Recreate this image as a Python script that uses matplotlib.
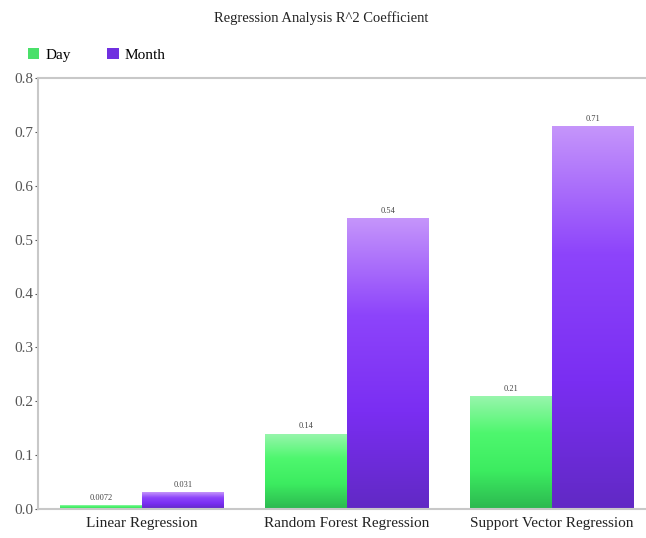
import numpy as np
import matplotlib
matplotlib.use("Agg")
import matplotlib.pyplot as plt
from matplotlib.colors import LinearSegmentedColormap
from matplotlib.patches import Patch

plt.rcParams['font.family'] = ['Liberation Serif', 'DejaVu Serif']

models = ['Linear Regression', 'Random Forest Regression', 'Support Vector Regression']
day_vals = [0.0072, 0.14, 0.21]
month_vals = [0.031, 0.54, 0.71]
day_labels = ['0.0072', '0.14', '0.21']
month_labels = ['0.031', '0.54', '0.71']

day_cmap = LinearSegmentedColormap.from_list('day', ['#2cb850', '#3cec60', '#4ef76e', '#9af5ae'])
month_cmap = LinearSegmentedColormap.from_list('month', ['#6129c4', '#7a2ef2', '#8d44fb', '#c595fa'])

fig = plt.figure(figsize=(6.46, 5.38), dpi=100)
ax = fig.add_axes([38 / 646, 1 - 509 / 538, 608 / 646, 431 / 538])

x = np.arange(len(models))
w = 0.4
grad = np.linspace(0, 1, 256).reshape(-1, 1)


def gradient_bars(xs, vals, cmap, labels):
    bars = ax.bar(xs, vals, w, color='none', edgecolor='none')
    for b, lab in zip(bars, labels):
        x0, y0 = b.get_x(), b.get_y()
        h = b.get_height()
        im = ax.imshow(grad, cmap=cmap, origin='lower', aspect='auto',
                       extent=(x0, x0 + b.get_width(), y0, y0 + h), zorder=2)
        im.set_clip_path(b)
        ax.text(x0 + b.get_width() / 2, y0 + h + 0.006, lab, ha='center', va='bottom',
                fontsize=6, color='#444444')
    return bars


gradient_bars(x - w / 2, day_vals, day_cmap, day_labels)
gradient_bars(x + w / 2, month_vals, month_cmap, month_labels)

ax.set_xlim(-0.507, 2.46)
ax.set_ylim(0, 0.8)
ax.set_yticks(np.arange(0, 0.81, 0.1))
ax.set_yticklabels(['%.1f' % v for v in np.arange(0, 0.81, 0.1)])
ax.set_xticks(x)
ax.set_xticklabels(models)
ax.tick_params(axis='x', length=0, labelsize=11, pad=6, colors='#222222')
ax.tick_params(axis='y', length=2, labelsize=11, pad=1, colors='#555555')

for s in ['left', 'top', 'bottom']:
    ax.spines[s].set_color('#c8c8c8')
    ax.spines[s].set_linewidth(1.5)
ax.spines['right'].set_visible(False)

fig.text(0.497, 1 - 18 / 538, 'Regression Analysis R^2 Coefficient', ha='center', va='center',
         fontsize=10.5, color='#222222')

handles = [Patch(facecolor='#4ae06a', label='Day'), Patch(facecolor='#7030e0', label='Month')]
fig.legend(handles=handles, loc='center left', bbox_to_anchor=(14 / 646, 1 - 55 / 538),
           ncol=2, frameon=False, fontsize=11, handlelength=0.75, handleheight=0.75,
           handletextpad=0.4, columnspacing=2.4)

fig.savefig('out.png', dpi=100)
